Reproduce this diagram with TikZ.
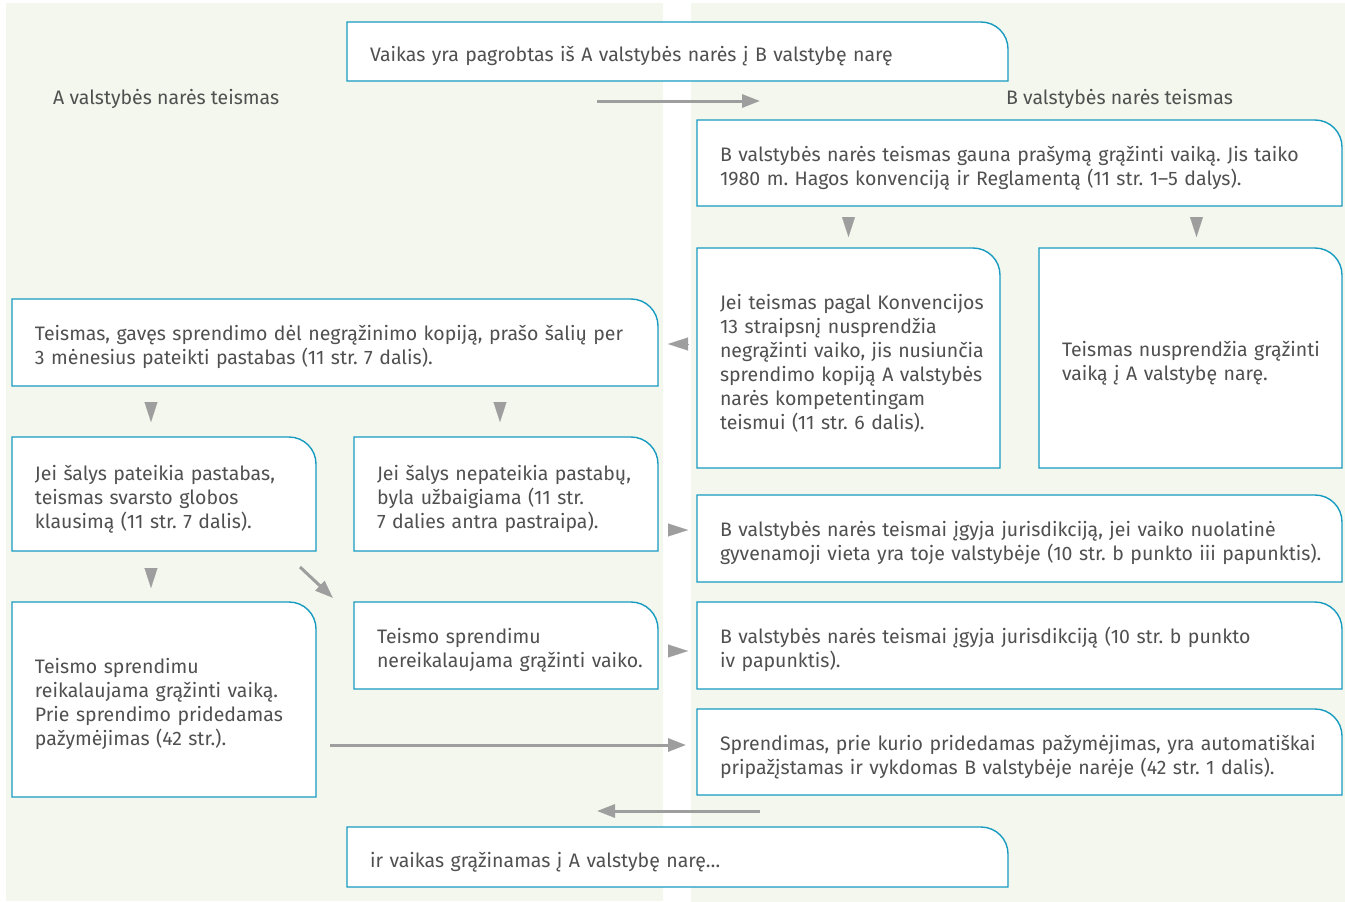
\documentclass[tikz,border=0pt]{standalone}
\usepackage{fontspec}
\setmainfont{Fira Sans}
\usetikzlibrary{arrows.meta,calc}
\pgfdeclarelayer{background}
\pgfsetlayers{background,main}
\definecolor{panel}{RGB}{243,247,237}
\definecolor{frame}{RGB}{24,155,193}
\definecolor{txt}{RGB}{80,80,80}
\definecolor{arr}{RGB}{158,158,158}
\tikzset{
  box/.style={rectangle, inner xsep=0pt, inner ysep=0pt, outer sep=0pt, align=left,
    text=txt, font=\fontsize{19.5}{24}\selectfont\frenchspacing, anchor=center},
  frameline/.style={draw=frame, line width=1.4pt, fill=white},
  longarrow/.style={draw=arr, line width=3pt, -{Triangle[length=18pt,width=13pt]}},
  tri/.style={draw=arr, line width=0.1pt, -{Triangle[length=20pt,width=13pt]}},
  lbl/.style={text=txt, font=\fontsize{19.5}{24}\selectfont, anchor=west, inner sep=0pt},
}
\newcommand\mkbox[6]{%
  \pgfmathsetmacro\bxw{#4-#2}%
  \pgfmathsetmacro\bxh{#5-#3}%
  \node[box,minimum width=\bxw pt,minimum height=\bxh pt,text width=\bxw pt] (#1) at ({(#2+#4)/2},{(#3+#5)/2})
    {\vskip1pt\leftskip=23pt\hyphenpenalty=10000\relax #6\par};}
\begin{document}
\begin{tikzpicture}[x=1pt,y=-1pt]
\useasboundingbox (0,0) rectangle (1345,902);

\mkbox{top}{347}{22}{1008}{81}{Vaikas yra pagrobtas iš A valstybės narės į B valstybę narę}
\mkbox{b1}{697}{120}{1342}{206}{B valstybės narės teismas gauna prašymą grąžinti vaiką. Jis taiko\\1980 m. Hagos konvenciją ir Reglamentą (11 str. 1–5 dalys).}
\mkbox{b2}{697}{248}{1000}{468}{Jei teismas pagal Konvencijos\\13 straipsnį nusprendžia\\negrąžinti vaiko, jis nusiunčia\\sprendimo kopiją A valstybės\\narės kompetentingam\\teismui (11 str. 6 dalis).}
\mkbox{b3}{1039}{248}{1342}{468}{Teismas nusprendžia grąžinti\\vaiką į A valstybę narę.}
\mkbox{a1}{12}{299}{658}{386}{Teismas, gavęs sprendimo dėl negrąžinimo kopiją, prašo šalių per\\3 mėnesius pateikti pastabas (11 str. 7 dalis).}
\mkbox{a2}{12}{437}{316}{551}{Jei šalys pateikia pastabas,\\teismas svarsto globos\\klausimą (11 str. 7 dalis).}
\mkbox{a3}{354}{437}{658}{551}{Jei šalys nepateikia pastabų,\\byla užbaigiama (11 str.\\7 dalies antra pastraipa).}
\mkbox{b4}{697}{495}{1342}{582}{B valstybės narės teismai įgyja jurisdikciją, jei vaiko nuolatinė\\gyvenamoji vieta yra toje valstybėje (10 str. b punkto iii papunktis).}
\mkbox{a4}{12}{602}{316}{797}{Teismo sprendimu\\reikalaujama grąžinti vaiką.\\Prie sprendimo pridedamas\\pažymėjimas (42 str.).}
\mkbox{a5}{354}{602}{658}{689}{Teismo sprendimu\\nereikalaujama grąžinti vaiko.}
\mkbox{b5}{697}{602}{1342}{689}{B valstybės narės teismai įgyja jurisdikciją (10 str. b punkto\\iv papunktis).}
\mkbox{b6}{697}{709}{1342}{795}{Sprendimas, prie kurio pridedamas pažymėjimas, yra automatiškai\\pripažįstamas ir vykdomas B valstybėje narėje (42 str. 1 dalis).}
\mkbox{bot}{347}{827}{1008}{887}{ir vaikas grąžinamas į A valstybę narę…}

\node[lbl] (la) at (53,99) {A valstybės narės teismas};
\node[lbl] (lb) at (1006,99) {B valstybės narės teismas};

\begin{pgfonlayer}{background}
  \fill[panel] (6,3) rectangle (663,901);
  \fill[panel] (691,3) rectangle (1345,902);
  \foreach \n in {top,b1,b2,b3,a1,a2,a3,b4,a4,a5,b5,b6,bot}{
    \draw[frameline] (\n.south west) -- (\n.north west) -- ([xshift=-27pt]\n.north east)
      arc[start angle=90, end angle=0, radius=27pt] -- (\n.south east) -- cycle;
  }
\end{pgfonlayer}

% connectors
\coordinate (t1s) at (597,101);
\coordinate (t1e) at (760,101);
\draw[longarrow] (t1s) -- (t1e);

\draw[tri] ([yshift=31pt]b2.north) -- ([yshift=11pt]b2.north);
\draw[tri] ([xshift=6pt,yshift=31pt]b3.north) -- ([xshift=6pt,yshift=11pt]b3.north);
\draw[tri] ([xshift=30pt,yshift=-1.5pt]a1.east) -- ([xshift=10pt,yshift=-1.5pt]a1.east);
\draw[tri] ([xshift=-13pt,yshift=34pt]a2.north) -- ([xshift=-13pt,yshift=15pt]a2.north);
\draw[tri] ([xshift=-6pt,yshift=34pt]a3.north) -- ([xshift=-6pt,yshift=15pt]a3.north);
\draw[tri] ([xshift=-29pt,yshift=8.5pt]b4.west) -- ([xshift=-9pt,yshift=8.5pt]b4.west);
\draw[tri] ([xshift=-13pt,yshift=33pt]a4.north) -- ([xshift=-13pt,yshift=14pt]a4.north);
\draw[longarrow] ([xshift=-16pt,yshift=-16pt]a2.south east) -- ([xshift=-21pt,yshift=4pt]a5.north west);
\draw[tri] ([xshift=-29pt,yshift=-5.5pt]b5.west) -- ([xshift=-9pt,yshift=-5.5pt]b5.west);
\draw[longarrow] ([xshift=14pt,yshift=-45.5pt]a4.east) -- ([xshift=-11pt,yshift=7pt]b6.west);

\coordinate (t2s) at (760,811);
\coordinate (t2e) at (597,811);
\draw[longarrow] (t2s) -- (t2e);
\end{tikzpicture}
\end{document}
